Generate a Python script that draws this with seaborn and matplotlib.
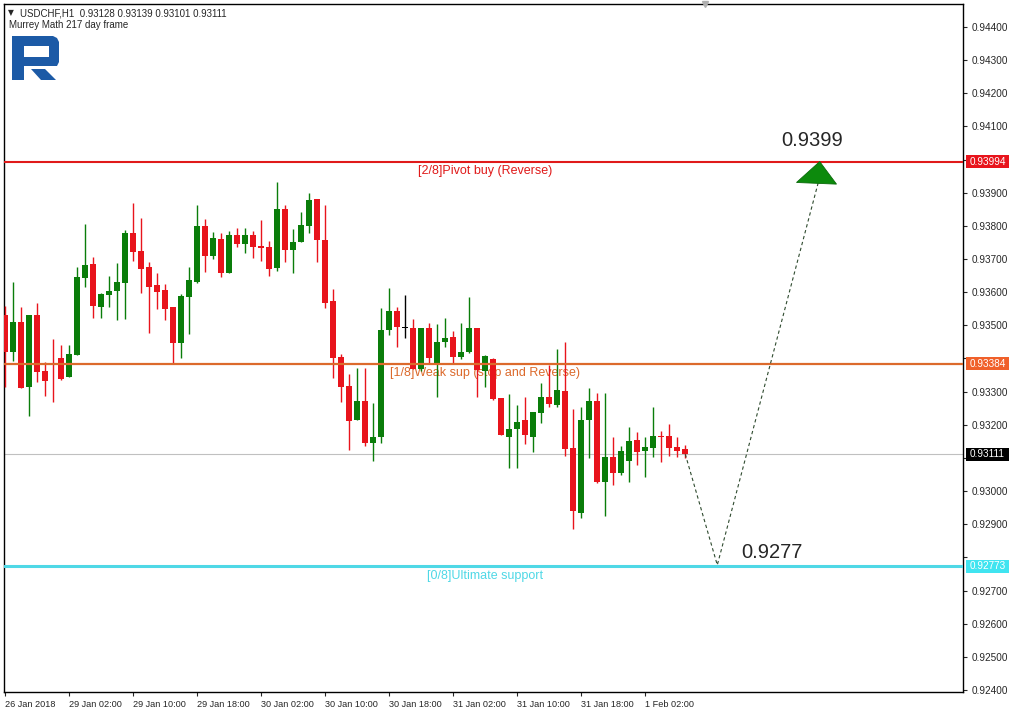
import numpy as np
import pandas as pd
import matplotlib
matplotlib.use("Agg")
import matplotlib.pyplot as plt
import matplotlib.transforms as mtransforms
from matplotlib.patches import Polygon, Rectangle
import seaborn as sns

# USDCHF H1 candles, 26 Jan 18:00 .. 1 Feb 07:00
opens = [0.93531, 0.93420, 0.93510, 0.93314, 0.93531, 0.93362, 0.93386, 0.93401, 0.93345, 0.93410,
         0.93644, 0.93685, 0.93556, 0.93592, 0.93604, 0.93629, 0.93780, 0.93725, 0.93676, 0.93622,
         0.93607, 0.93556, 0.93446, 0.93586, 0.93631, 0.93800, 0.93710, 0.93760, 0.93659, 0.93772,
         0.93746, 0.93772, 0.93738, 0.93735, 0.93674, 0.93851, 0.93728, 0.93752, 0.93801, 0.93881,
         0.93757, 0.93573, 0.93405, 0.93317, 0.93214, 0.93272, 0.93146, 0.93162, 0.93486, 0.93543,
         0.93493, 0.93491, 0.93367, 0.93491, 0.93383, 0.93451, 0.93464, 0.93405, 0.93420, 0.93491,
         0.93362, 0.93398, 0.93282, 0.93164, 0.93186, 0.93214, 0.93164, 0.93236, 0.93285, 0.93260,
         0.93302, 0.93131, 0.92935, 0.93214, 0.93273, 0.93028, 0.93104, 0.93056, 0.93092, 0.93154,
         0.93122, 0.93129, 0.93167, 0.93167, 0.93132, 0.93128]
highs = [0.93558, 0.93631, 0.93556, 0.93531, 0.93567, 0.93389, 0.93459, 0.93441, 0.93441, 0.93676,
         0.93806, 0.93706, 0.93599, 0.93649, 0.93688, 0.93788, 0.93869, 0.93824, 0.93692, 0.93658,
         0.93625, 0.93556, 0.93595, 0.93676, 0.93863, 0.93820, 0.93781, 0.93778, 0.93785, 0.93793,
         0.93793, 0.93785, 0.93818, 0.93754, 0.93932, 0.93863, 0.93790, 0.93841, 0.93898, 0.93881,
         0.93863, 0.93610, 0.93414, 0.93353, 0.93370, 0.93370, 0.93265, 0.93551, 0.93612, 0.93554,
         0.93592, 0.93518, 0.93492, 0.93506, 0.93504, 0.93521, 0.93484, 0.93506, 0.93585, 0.93491,
         0.93411, 0.93401, 0.93282, 0.93292, 0.93260, 0.93283, 0.93238, 0.93325, 0.93380, 0.93428,
         0.93451, 0.93247, 0.93255, 0.93310, 0.93295, 0.93295, 0.93164, 0.93137, 0.93194, 0.93177,
         0.93164, 0.93255, 0.93181, 0.93202, 0.93164, 0.93139]
lows = [0.93315, 0.93393, 0.93311, 0.93227, 0.93329, 0.93288, 0.93269, 0.93335, 0.93344, 0.93410,
        0.93617, 0.93523, 0.93523, 0.93556, 0.93516, 0.93520, 0.93695, 0.93599, 0.93477, 0.93550,
        0.93516, 0.93386, 0.93401, 0.93473, 0.93629, 0.93662, 0.93699, 0.93647, 0.93657, 0.93737,
        0.93719, 0.93704, 0.93695, 0.93649, 0.93665, 0.93692, 0.93659, 0.93752, 0.93780, 0.93692,
        0.93553, 0.93340, 0.93270, 0.93124, 0.93214, 0.93137, 0.93092, 0.93144, 0.93471, 0.93436,
        0.93463, 0.93367, 0.93363, 0.93386, 0.93285, 0.93436, 0.93386, 0.93398, 0.93416, 0.93285,
        0.93315, 0.93275, 0.93169, 0.93071, 0.93071, 0.93142, 0.93119, 0.93206, 0.93255, 0.93253,
        0.93107, 0.92885, 0.92918, 0.93099, 0.93024, 0.92925, 0.93018, 0.93049, 0.93028, 0.93079,
        0.93042, 0.93104, 0.93089, 0.93106, 0.93102, 0.93101]
closes = [0.93420, 0.93510, 0.93311, 0.93531, 0.93360, 0.93333, 0.93380, 0.93338, 0.93414, 0.93646,
          0.93682, 0.93559, 0.93595, 0.93604, 0.93631, 0.93780, 0.93722, 0.93671, 0.93617, 0.93602,
          0.93550, 0.93448, 0.93589, 0.93637, 0.93800, 0.93710, 0.93763, 0.93659, 0.93772, 0.93746,
          0.93772, 0.93737, 0.93734, 0.93671, 0.93851, 0.93728, 0.93751, 0.93803, 0.93878, 0.93758,
          0.93568, 0.93402, 0.93315, 0.93212, 0.93272, 0.93144, 0.93162, 0.93486, 0.93543, 0.93496,
          0.93493, 0.93367, 0.93491, 0.93402, 0.93451, 0.93461, 0.93405, 0.93420, 0.93491, 0.93365,
          0.93408, 0.93278, 0.93169, 0.93186, 0.93208, 0.93169, 0.93238, 0.93285, 0.93263, 0.93305,
          0.93127, 0.92941, 0.93214, 0.93273, 0.93028, 0.93104, 0.93056, 0.93121, 0.93151, 0.93119,
          0.93134, 0.93167, 0.93163, 0.93131, 0.93122, 0.93111]

date_ticks = [0, 8, 16, 24, 32, 40, 48, 56, 64, 72, 80]
date_labels = ["26 Jan 2018", "29 Jan 02:00", "29 Jan 10:00", "29 Jan 18:00", "30 Jan 02:00",
               "30 Jan 10:00", "30 Jan 18:00", "31 Jan 02:00", "31 Jan 10:00", "31 Jan 18:00",
               "1 Feb 02:00"]

# Murrey Math levels
levels = [0.93994, 0.93384, 0.92773]
level_names = ["[2/8]Pivot buy (Reverse)", "[1/8]Weak sup (stop and Reverse)", "[0/8]Ultimate support"]
level_colors = ["#e01a1a", "#dc6a2c", "#4fd8e6"]
level_boxes = ["#e8141c", "#f0602a", "#40e4f0"]
bid = 0.93111

# forecast path
forecast_x = [85, 89, 101.6]
forecast_y = [0.93111, 0.92777, 0.93929]
target_up = 0.9399
target_down = 0.9277

sns.set_style("white")
plt.rcParams["font.family"] = ["Liberation Sans", "DejaVu Sans"]

df = pd.DataFrame({"open": opens, "high": highs, "low": lows, "close": closes})
df["i"] = np.arange(len(df))
col = np.where(df.close > df.open, "#0a7d0a", np.where(df.close < df.open, "#e8141c", "#000000"))

fig = plt.figure(figsize=(10.12, 7.14), dpi=100)
ax = fig.add_axes([4 / 1012, 22 / 714, 959 / 1012, 688 / 714])

ax.vlines(df.i, df.low, df.high, colors=col, linewidth=1, zorder=3)
ax.bar(df.i, np.maximum((df.close - df.open).abs(), 0.00002), bottom=np.minimum(df.open, df.close),
       width=0.72, color=col, linewidth=0, zorder=4)

ax.axhline(bid, color="#c0c0c0", linewidth=0.8, zorder=2)
lw = [1.5, 1.6, 2.2]
for lev, name, c, w in zip(levels, level_names, level_colors, lw):
    ax.axhline(lev, color=c, linewidth=w, zorder=5)
    ax.annotate(name, (60, lev), xytext=(0, -2.5), textcoords="offset points",
                ha="center", va="top", fontsize=9, color=c, zorder=2)

# dashed forecast
sns.lineplot(x=forecast_x, y=forecast_y, ax=ax, color="#2e4a2e", linewidth=0.8,
             linestyle=(0, (3, 2.5)), zorder=6)
tip_x = forecast_x[-1] + 0.2
tri = Polygon([(tip_x - 2.9, forecast_y[-1] + 0.00002), (tip_x, levels[0]),
               (tip_x + 2.1, forecast_y[-1] - 0.00003)],
              closed=True, facecolor="#0c8a0c", edgecolor="#0a6a0a", linewidth=0.6, zorder=7)
ax.add_patch(tri)
ax.text(tip_x - 1.0, target_up + 0.00068, f"{target_up:.4f}", fontsize=14.5, ha="center", va="center", zorder=7)
ax.text(forecast_x[1] + 6.8, target_down + 0.00045, f"{target_down:.4f}", fontsize=14.5, ha="center",
        va="center", zorder=7)

ax.set_xlim(-0.1625, -0.1625 + 959 / 8)
ax.set_ylim(0.944 - 665 / 33150, 0.944 + 23 / 33150)

ax.set_xticks(date_ticks)
ax.set_xticklabels(date_labels, ha="left")
ax.tick_params(axis="x", length=3, width=0.8, direction="out", labelsize=6.6, pad=3, bottom=True)
ax.yaxis.tick_right()
yt = np.arange(0.924, 0.94401, 0.001)
ax.set_yticks(yt)
# labels under the price boxes are hidden by them in the terminal
covered = levels + [bid]
ax.set_yticklabels(["" if min(abs(v - b) for b in covered) < 0.00035 else f"{v:.5f}" for v in yt])
ax.tick_params(axis="y", length=3, width=0.8, direction="out", labelsize=7.2, pad=3, right=True)
for s in ax.spines.values():
    s.set_color("black")
    s.set_linewidth(1)

# price boxes on the right axis
trans = mtransforms.blended_transform_factory(ax.transAxes, ax.transData)
half = 6.5 / 33150
for lev, bc in zip(levels + [bid], level_boxes + ["black"]):
    ax.add_patch(Rectangle((1.003, lev - half), 0.0445, 2 * half, transform=trans, facecolor=bc,
                           edgecolor="none", clip_on=False, zorder=9))
    ax.text(1.0065, lev, f"{lev:.5f}", transform=trans, ha="left", va="center", fontsize=7.2,
            color="white", clip_on=False, zorder=10)

# chart shift marker
ax.plot([87.5], [ax.get_ylim()[1]], marker="v", color="#b0b0b0", markersize=5, clip_on=False, zorder=10)

# header
fig.text(8 / 1012, 1 - 13 / 714, "\u25bc", fontsize=5.5, va="center", ha="left", family=["DejaVu Sans"])
fig.text(20 / 1012, 1 - 13 / 714, f"USDCHF,H1  {opens[-1]:.5f} {highs[-1]:.5f} {lows[-1]:.5f} {closes[-1]:.5f}",
         fontsize=7, va="center", ha="left")
fig.text(9 / 1012, 1 - 25 / 714, "Murrey Math 217 day frame", fontsize=7, va="center", ha="left")


# logo
def px(pts):
    return [(x / 1012, 1 - y / 714) for x, y in pts]


logo = "#1c5aa6"
for shape in ([(12, 36), (24, 36), (24, 80), (12, 80)],
              [(12, 36), (53, 36), (57, 38), (59, 42), (59, 62), (57, 66), (24, 66), (24, 57),
               (49, 57), (49, 46), (12, 46)],
              [(31, 69), (45, 69), (56, 80), (41, 80)]):
    fig.patches.append(Polygon(px(shape), closed=True, transform=fig.transFigure,
                               facecolor=logo, edgecolor="none"))

fig.savefig("out.png", dpi=100)
